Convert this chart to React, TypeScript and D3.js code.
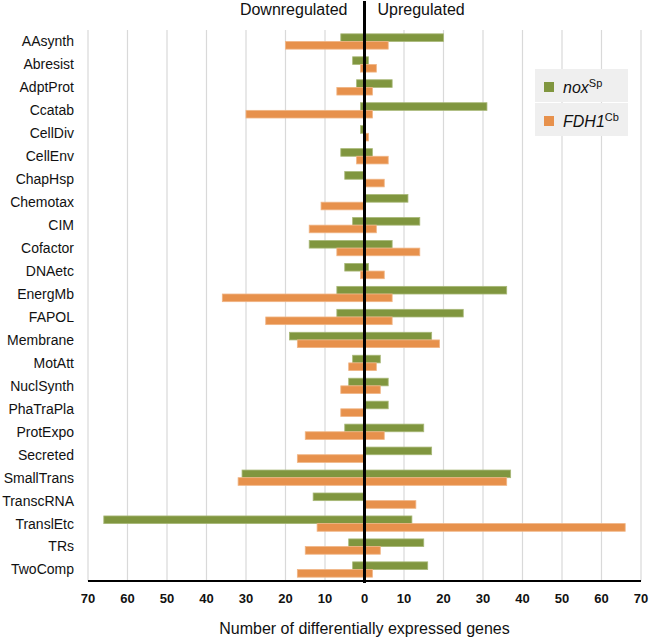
import React from "react";
import * as d3 from "d3";

const categories = [
  "AAsynth", "Abresist", "AdptProt", "Ccatab", "CellDiv", "CellEnv", "ChapHsp", "Chemotax",
  "CIM", "Cofactor", "DNAetc", "EnergMb", "FAPOL", "Membrane", "MotAtt", "NuclSynth",
  "PhaTraPla", "ProtExpo", "Secreted", "SmallTrans", "TranscRNA", "TranslEtc", "TRs", "TwoComp",
];
// down-regulated counts (drawn to the left), up-regulated counts (drawn to the right)
const noxDown = [6, 3, 2, 1, 1, 6, 5, 0, 3, 14, 5, 7, 7, 19, 3, 4, 0, 5, 0, 31, 13, 66, 4, 3];
const noxUp = [20, 1, 7, 31, 0, 2, 0, 11, 14, 7, 1, 36, 25, 17, 4, 6, 6, 15, 17, 37, 0, 12, 15, 16];
const fdhDown = [20, 1, 7, 30, 0, 2, 0, 11, 14, 7, 1, 36, 25, 17, 4, 6, 6, 15, 17, 32, 0, 12, 15, 17];
const fdhUp = [6, 3, 2, 2, 1, 6, 5, 0, 3, 14, 5, 7, 7, 19, 3, 4, 0, 5, 0, 36, 13, 66, 4, 2];
const tickValues = [-70, -60, -50, -40, -30, -20, -10, 0, 10, 20, 30, 40, 50, 60, 70];
const seriesKeys = ["nox", "fdh"];
const seriesNames = [
  { main: "nox", sup: "Sp" },
  { main: "FDH1", sup: "Cb" },
];

const GREEN = "#80963F";
const ORANGE = "#E7914C";
const GREEN_EDGE = "#A8B878";
const ORANGE_EDGE = "#F0B585";
const FONT = "'Liberation Sans', Arial, Helvetica, sans-serif";

export default function App() {
  const width = 650;
  const height = 639;
  const left = 88;
  const right = 641;
  const top = 30;
  const bottom = 581;

  const x = d3.scaleLinear().domain([-70, 70]).range([left, right]);
  const y = d3.scaleBand<string>().domain(categories).range([top, bottom]).padding(0);
  const inner = d3
    .scaleBand<string>()
    .domain(seriesKeys)
    .range([0, y.bandwidth()])
    .paddingInner(0)
    .paddingOuter(0.5);

  const bars: { key: string; y: number; x0: number; x1: number; s: string }[] = [];
  categories.forEach((c, i) => {
    const y0 = y(c) as number;
    const rows = [
      { s: "nox", down: noxDown[i], up: noxUp[i] },
      { s: "fdh", down: fdhDown[i], up: fdhUp[i] },
    ];
    rows.forEach((r) => {
      const yy = y0 + (inner(r.s) as number);
      if (r.down > 0) bars.push({ key: `${c}-${r.s}-d`, y: yy, x0: x(-r.down), x1: x(0), s: r.s });
      if (r.up > 0) bars.push({ key: `${c}-${r.s}-u`, y: yy, x0: x(0), x1: x(r.up), s: r.s });
    });
  });

  const bh = inner.bandwidth();

  return (
    <svg
      width={width}
      height={height}
      style={{ position: "absolute", left: 0, top: 0, background: "#fff" }}
      fontFamily={FONT}
    >
      {/* gridlines */}
      {tickValues
        .filter((t) => t !== 0)
        .map((t) => (
          <line key={`g${t}`} x1={x(t)} x2={x(t)} y1={top} y2={bottom} stroke="#d9d9d9" strokeWidth={1.2} />
        ))}

      {/* bars */}
      {bars.map((b) => (
        <rect
          key={b.key}
          x={b.x0}
          y={b.y}
          width={Math.max(0, b.x1 - b.x0)}
          height={bh}
          fill={b.s === "nox" ? GREEN : ORANGE}
          stroke={b.s === "nox" ? GREEN_EDGE : ORANGE_EDGE}
          strokeWidth={0.8}
        />
      ))}

      {/* category labels */}
      {categories.map((c) => (
        <text
          key={`l${c}`}
          x={74}
          y={(y(c) as number) + y.bandwidth() / 2}
          dy="0.35em"
          textAnchor="end"
          fontSize={14}
          fill="#111"
        >
          {c}
        </text>
      ))}

      {/* bottom axis line */}
      <line x1={left} x2={right} y1={bottom} y2={bottom} stroke="#000" strokeWidth={2} />

      {/* zero line */}
      <line x1={x(0)} x2={x(0)} y1={1} y2={bottom + 2} stroke="#000" strokeWidth={3} />

      {/* tick labels */}
      {tickValues.map((t) => (
        <text
          key={`t${t}`}
          x={x(t)}
          y={603}
          textAnchor="middle"
          fontSize={13}
          fontWeight="bold"
          fill="#111"
        >
          {Math.abs(t)}
        </text>
      ))}

      {/* axis title */}
      <text x={x(0)} y={634} textAnchor="middle" fontSize={16} fill="#111">
        Number of differentially expressed genes
      </text>

      {/* headers */}
      <text x={x(0) - 17} y={15} textAnchor="end" fontSize={16} fill="#111">
        Downregulated
      </text>
      <text x={x(0) + 13} y={15} textAnchor="start" fontSize={16} fill="#111">
        Upregulated
      </text>

      {/* legend */}
      {seriesNames.map((s, i) => {
        const by = 69 + i * 34;
        return (
          <g key={`lg${i}`}>
            <rect x={535} y={by} width={93} height={33} fill="#efefef" />
            <rect x={544} y={by + 13} width={10} height={10} fill={i === 0 ? GREEN : ORANGE} />
            <text x={563} y={by + 24} fontSize={16} fill="#111">
              <tspan fontStyle="italic">{s.main}</tspan>
              <tspan fontSize={11} dy={-6}>
                {s.sup}
              </tspan>
            </text>
          </g>
        );
      })}
    </svg>
  );
}
